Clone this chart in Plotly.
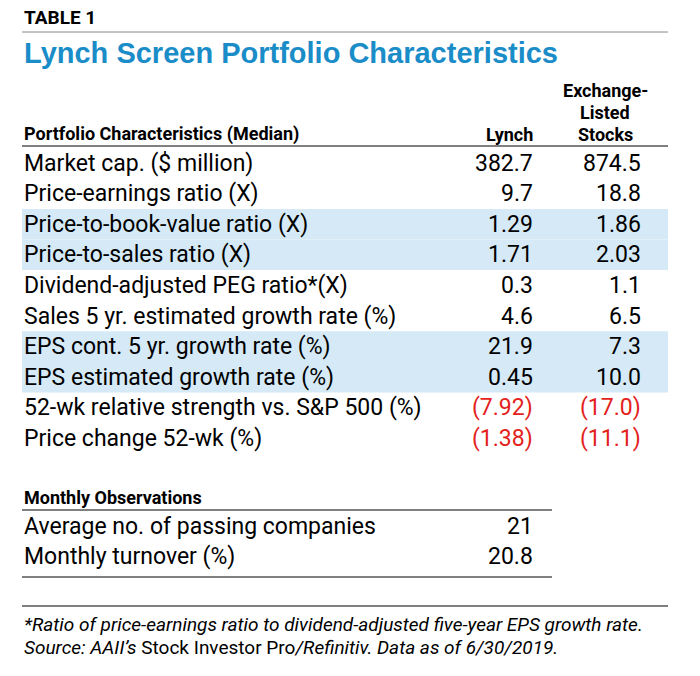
import plotly.graph_objects as go

labels = [
    "Market cap. ($ million)", "Price-earnings ratio (X)", "Price-to-book-value ratio (X)",
    "Price-to-sales ratio (X)", "Dividend-adjusted PEG ratio*(X)", "Sales 5 yr. estimated growth rate (%)",
    "EPS cont. 5 yr. growth rate (%)", "EPS estimated growth rate (%)",
    "52-wk relative strength vs. S&P 500 (%)", "Price change 52-wk (%)",
]
lynch = ["382.7", "9.7", "1.29", "1.71", "0.3", "4.6", "21.9", "0.45", "(7.92)", "(1.38)"]
exchange = ["874.5", "18.8", "1.86", "2.03", "1.1", "6.5", "7.3", "10.0", "(17.0)", "(11.1)"]
shaded = [False, False, True, True, False, False, True, True, False, False]

monthly_labels = ["Average no. of passing companies", "Monthly turnover (%)"]
monthly_lynch = ["21", "20.8"]

FONT = "Liberation Sans Narrow, Arial Narrow, Roboto, Arial"
BLUE = "#1a8cc8"
RED = "#e3221c"
SHADE = "#d5eaf6"

fig = go.Figure()
shapes, ann = [], []

def text(x, y, s, size=23, color="black", anchor="left", bold=False):
    if bold:
        s = "<b>" + s + "</b>"
    ann.append(dict(x=x, y=y, text=s, showarrow=False, xanchor=anchor, yanchor="middle",
                    font=dict(family=FONT, size=size, color=color)))

def hline(y, x0=22, x1=668, w=1, c="black"):
    shapes.append(dict(type="line", x0=x0, x1=x1, y0=y, y1=y, line=dict(color=c, width=w)))

text(22, 17, "TABLE 1", size=19, bold=True)
hline(32, c="#888888")
ann.append(dict(x=22, y=53, text="<b>Lynch Screen Portfolio Characteristics</b>", showarrow=False,
                xanchor="left", yanchor="middle", font=dict(family="Liberation Sans, Arial", size=29, color=BLUE)))

text(22, 134, "Portfolio Characteristics (Median)", size=18, bold=True)
text(535, 134, "Lynch", size=18, anchor="right", bold=True)
for i, s in enumerate(["Exchange-", "Listed", "Stocks"]):
    text(605, 90 + i * 22, s, size=18, anchor="center", bold=True)
hline(146)

y0, dy = 163, 30.6
for i, lab in enumerate(labels):
    y = y0 + i * dy
    if shaded[i]:
        shapes.append(dict(type="rect", x0=22, x1=668, y0=y - dy / 2, y1=y + dy / 2,
                           fillcolor=SHADE, line=dict(width=0), layer="below"))
    text(22, y, lab)
    for v, xr in ((lynch[i], 535), (exchange[i], 643)):
        text(xr, y, v, anchor="right", color=RED if v.startswith("(") else "black")

text(22, 497, "Monthly Observations", size=18, bold=True)
hline(510, x1=552)
for i, lab in enumerate(monthly_labels):
    y = 526 + i * 30.6
    text(22, y, lab)
    text(535, y, monthly_lynch[i], anchor="right")
hline(577, x1=552)
hline(606)

text(22, 624, "<i>*Ratio of price-earnings ratio to dividend-adjusted five-year EPS growth rate.</i>", size=19)
text(22, 647, "<i>Source: AAII’s</i> Stock Investor Pro<i>/Refinitiv. Data as of 6/30/2019.</i>", size=19)

fig.update_layout(
    width=700, height=676, margin=dict(l=0, r=0, t=0, b=0),
    paper_bgcolor="white", plot_bgcolor="white", showlegend=False,
    # page body adds an 8px offset, so the axes are shifted to compensate
    xaxis=dict(range=[8, 708], visible=False, fixedrange=True),
    yaxis=dict(range=[684, 8], visible=False, fixedrange=True),
    shapes=shapes, annotations=ann,
)
fig.write_html("out.html")
